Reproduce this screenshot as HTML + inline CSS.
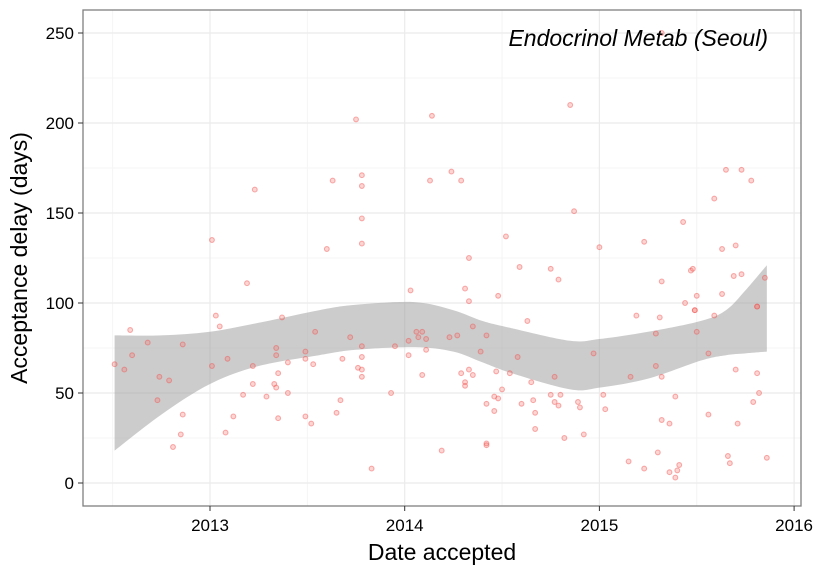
<!DOCTYPE html>
<html><head><meta charset="utf-8"><style>
body{margin:0;background:#fff}
svg{display:block;font-family:"Liberation Sans",sans-serif}
</style></head><body>
<svg id="chart" width="825" height="570">
<rect width="825" height="570" fill="#fff"/>
<g id="grid"></g><g id="band"></g><g id="pts"></g><g id="axes"></g>
<text x="768" y="46" text-anchor="end" font-size="23" font-style="italic">Endocrinol Metab (Seoul)</text>
<text x="442" y="560" text-anchor="middle" font-size="23">Date accepted</text>
<text transform="translate(27,258) rotate(-90)" text-anchor="middle" font-size="23">Acceptance delay (days)</text>
</svg>
<script>
const dates=[2013.23,2013.01,2013.60,2013.19,2012.59,2013.03,2013.05,2013.37,2013.54,2012.68,2012.86,2012.60,2012.51,2012.56,2013.01,2013.09,2013.22,2013.34,2013.34,2013.40,2013.49,2013.49,2013.53,2013.35,2012.74,2012.79,2013.22,2013.33,2013.34,2013.17,2013.29,2013.40,2012.73,2012.86,2013.12,2013.35,2013.49,2013.52,2012.85,2013.08,2012.81,
2013.75,2014.14,2013.63,2013.78,2013.78,2014.13,2014.24,2014.29,2013.78,2014.52,2013.78,2014.33,2014.59,2014.75,2014.79,2014.03,2014.31,2014.33,2014.48,2014.63,2013.72,2014.06,2014.09,2014.07,2014.11,2014.02,2014.23,2014.27,2014.35,2014.42,2013.78,2013.95,2014.11,2014.39,2013.78,2014.02,2013.68,2014.58,2013.76,2013.78,2013.78,2014.09,2014.29,2014.33,2014.35,2014.47,2014.54,2014.77,2014.31,2014.31,2014.65,2014.50,2013.93,2014.46,2014.48,2014.75,2014.80,2013.67,2014.42,2014.60,2014.66,2014.77,2014.79,2013.65,2014.46,2014.67,2014.67,2014.82,2014.19,2014.42,2014.42,2013.83,
2014.85,2015.65,2015.73,2015.78,2015.59,2014.87,2015.43,2015.00,2015.23,2015.63,2015.70,2015.47,2015.48,2015.69,2015.73,2015.85,2015.32,2015.50,2015.63,2015.44,2015.49,2015.49,2015.81,2015.81,2015.19,2015.31,2015.59,2015.29,2015.50,2014.97,2015.56,2015.70,2015.81,2015.29,2015.16,2015.32,2015.02,2015.39,2015.82,2015.79,2014.89,2014.90,2015.03,2015.56,2015.32,2015.36,2015.71,2014.92,2015.30,2015.15,2015.66,2015.67,2015.86,2015.23,2015.41,2015.40,2015.36,2015.39,2015.32];
const delays=[163,135,130,111,85,93,87,92,84,78,77,71,66,63,65,69,65,75,71,67,73,69,66,61,59,57,55,55,53,49,48,50,46,38,37,36,37,33,27,28,20,
202,204,168,171,165,168,173,168,147,137,133,125,120,119,113,107,108,101,104,90,81,84,84,81,80,79,81,82,87,82,76,76,74,73,70,71,69,70,64,63,59,60,61,63,60,62,61,59,56,54,56,52,50,48,47,49,49,46,44,44,46,45,43,39,40,39,30,25,18,22,21,8,
210,174,174,168,158,151,145,131,134,130,132,118,119,115,116,114,112,104,105,100,96,96,98,98,93,92,93,83,84,72,72,63,61,65,59,59,49,48,50,45,45,42,41,38,35,33,33,27,17,12,15,11,14,8,10,7,6,3,250];
const bandX=[2012.51,2012.75,2013.0,2013.25,2013.56,2013.75,2014.05,2014.25,2014.40,2014.55,2014.85,2015.0,2015.25,2015.52,2015.65,2015.75,2015.86];
const bandHi=[82,82,84,89,96,99,100.5,96,90,86,79,80,84,90,96,107,121];
const bandLo=[18,38,55,65,71,74,75.5,73,67,61,52,53,58,68,71,72,73];
const xTicks=[2013,2014,2015,2016];
const yTicks=[0,50,100,150,200,250];
const NS='http://www.w3.org/2000/svg';
const L=83,R=801,T=10,B=506;
const sx=v=>210+(v-2013)*194.7;
const sy=v=>483-v*1.8;
function mk(tag,attrs,parent){const e=document.createElementNS(NS,tag);for(const k in attrs)e.setAttribute(k,attrs[k]);parent.appendChild(e);return e;}
function spline(P,start){let s=start?'M'+P[0][0]+','+P[0][1]:'L'+P[0][0]+','+P[0][1];
 for(let i=0;i<P.length-1;i++){const p0=P[Math.max(i-1,0)],p1=P[i],p2=P[i+1],p3=P[Math.min(i+2,P.length-1)];
 s+='C'+(p1[0]+(p2[0]-p0[0])/6)+','+(p1[1]+(p2[1]-p0[1])/6)+' '+(p2[0]-(p3[0]-p1[0])/6)+','+(p2[1]-(p3[1]-p1[1])/6)+' '+p2[0]+','+p2[1];}
 return s;}
const grid=document.getElementById('grid');
for(let v=25;v<=275;v+=50){if(sy(v)>T&&sy(v)<B){const l=mk('line',{x1:L,x2:R,y1:sy(v),y2:sy(v),stroke:'#f4f4f4','stroke-width':1},grid);}}
for(let v=2012.5;v<=2016;v+=1){const l=mk('line',{x1:sx(v),x2:sx(v),y1:T,y2:B,stroke:'#f4f4f4','stroke-width':1},grid);}
yTicks.forEach(v=>{const l=mk('line',{x1:L,x2:R,y1:sy(v),y2:sy(v),stroke:'#ebebeb','stroke-width':1.2},grid);});
xTicks.forEach(v=>{const l=mk('line',{x1:sx(v),x2:sx(v),y1:T,y2:B,stroke:'#ebebeb','stroke-width':1.2},grid);});
const hi=bandX.map((x,i)=>[sx(x),sy(bandHi[i])]);
const lo=bandX.map((x,i)=>[sx(x),sy(bandLo[i])]).reverse();
const band=mk('path',{d:spline(hi,true)+spline(lo,false)+'Z',fill:'#999',opacity:0.5},document.getElementById('band'));


const pts=document.getElementById('pts');
dates.forEach((x,i)=>{const c=mk('circle',{cx:sx(x),cy:sy(delays[i]),r:2.4,fill:'rgba(248,118,109,0.3)',stroke:'rgba(240,80,80,0.45)','stroke-width':1.1},pts);});
const ax=document.getElementById('axes');
const fr=mk('rect',{x:L,y:T,width:R-L,height:B-T,fill:'none',stroke:'#7f7f7f','stroke-width':1.3},ax);

yTicks.forEach(v=>{mk('line',{x1:L-5,x2:L,y1:sy(v),y2:sy(v),stroke:'#333'},ax);const t=mk('text',{x:L-9,y:sy(v)+6,'text-anchor':'end','font-size':17,fill:'#000'},ax);t.textContent=v;});
xTicks.forEach(v=>{mk('line',{x1:sx(v),x2:sx(v),y1:B,y2:B+5,stroke:'#333'},ax);const t=mk('text',{x:sx(v),y:B+25,'text-anchor':'middle','font-size':17,fill:'#000'},ax);t.textContent=v;});
</script>
</body></html>
